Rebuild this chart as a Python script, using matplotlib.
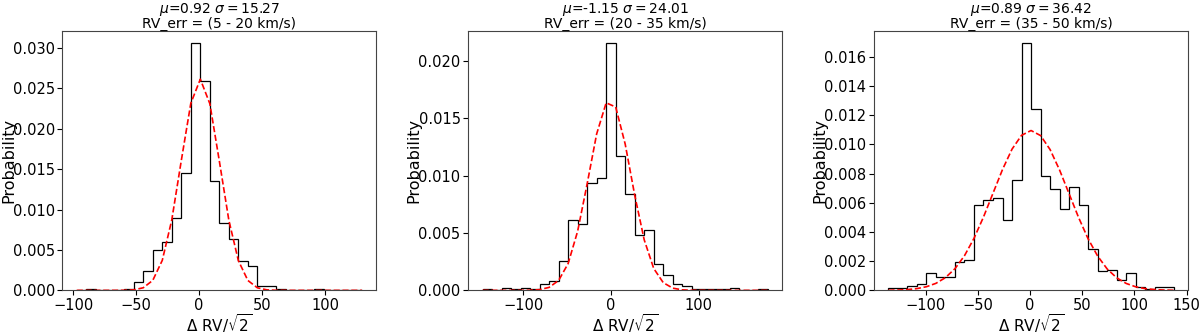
import numpy as np
import matplotlib
matplotlib.use("Agg")
import matplotlib.pyplot as plt
from matplotlib.ticker import MultipleLocator

# ---- data ----
titles_err = ["RV_err = (5 - 20 km/s)", "RV_err = (20 - 35 km/s)", "RV_err = (35 - 50 km/s)"]
mus = [0.92, -1.15, 0.89]
sigmas = [15.27, 24.01, 36.42]
ytick_steps = [0.005, 0.005, 0.002]

# histogram range (first and last bin edge) for each panel, 30 bins each
ranges = [(-97.2, 129.3), (-146.2, 178.8), (-135.7, 137.7)]
n_bins = 30

heights1 = [0.0001, 0.0002, 0.0001, 0.0, 0.0, 0.0002, 0.0010, 0.0024, 0.0050, 0.0060,
            0.0089, 0.01453, 0.0306, 0.02585, 0.0135, 0.0083, 0.0064, 0.0036, 0.0030, 0.0005,
            0.0005, 0.0002, 0.0001, 0.0001, 0.0001, 0.0002, 0.0001, 0.0, 0.0, 0.0001]
heights2 = [0.0001, 0.00005, 0.0002, 0.0001, 0.0002, 0.00015, 0.00057, 0.00086, 0.00255, 0.00614,
            0.00577, 0.00938, 0.00984, 0.02158, 0.01171, 0.00841, 0.00482, 0.00531, 0.00232, 0.00135,
            0.00057, 0.0004, 0.00015, 0.00015, 0.0001, 0.0001, 0.0002, 0.00005, 0.00005, 0.0001]
heights3 = [0.00016, 0.00016, 0.00027, 0.00045, 0.00122, 0.0009, 0.0009, 0.00192, 0.0021, 0.00588,
            0.0062, 0.00636, 0.00485, 0.00755, 0.01695, 0.0124, 0.00784, 0.00694, 0.00559, 0.0071,
            0.00586, 0.00286, 0.00135, 0.00142, 0.0007, 0.00118, 0.00023, 0.00007, 0.00023, 0.00023]
all_heights = [heights1, heights2, heights3]

fig, axes = plt.subplots(1, 3, figsize=(12, 3.33), dpi=100)
fig.subplots_adjust(left=0.052, right=0.99, bottom=0.128, top=0.908, wspace=0.293)

for ax, h, (lo, hi), mu, sig, terr, step in zip(axes, all_heights, ranges, mus, sigmas,
                                                 titles_err, ytick_steps):
    edges = np.linspace(lo, hi, n_bins + 1)
    centers = 0.5 * (edges[:-1] + edges[1:])
    ax.hist(centers, bins=edges, weights=h, histtype='step', color='black', linewidth=0.9)
    # gaussian fit evaluated at bin edges
    g = np.exp(-0.5 * ((edges - mu) / sig) ** 2) / (sig * np.sqrt(2 * np.pi))
    ax.plot(edges, g, 'r--', linewidth=1.2)
    ax.set_title(r"$\mu$=%.2f $\sigma=$%.2f" % (mu, sig) + "\n" + terr, fontsize=10, pad=1,
                 linespacing=0.85)
    ax.set_ylabel("Probability", fontsize=11.5)
    ax.set_xlabel(r"$\Delta$ RV/$\sqrt{2}$", fontsize=11)
    ax.yaxis.set_label_coords(-0.148, 0.5)
    ax.xaxis.set_label_coords(0.5, -0.082)
    ax.yaxis.set_major_locator(MultipleLocator(step))
    ax.tick_params(labelsize=10.5, length=3.5, pad=2)
    ax.set_ylim(bottom=0)
    for sp in ax.spines.values():
        sp.set_color('#444444')

fig.savefig("out.png", dpi=100)
